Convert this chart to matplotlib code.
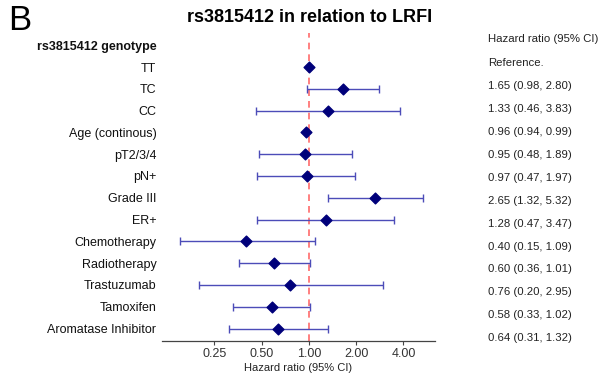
import matplotlib.pyplot as plt
import numpy as np

plt.rcParams["font.family"] = ["Liberation Sans", "DejaVu Sans"]

# rows of the forest plot (row 0 is the genotype header)
labels = ["TT", "TC", "CC", "Age (continous)", "pT2/3/4", "pN+", "Grade III",
          "ER+", "Chemotherapy", "Radiotherapy", "Trastuzumab", "Tamoxifen",
          "Aromatase Inhibitor"]
hr = [1.00, 1.65, 1.33, 0.96, 0.95, 0.97, 2.65, 1.28, 0.40, 0.60, 0.76, 0.58, 0.64]
lo = [np.nan, 0.98, 0.46, 0.94, 0.48, 0.47, 1.32, 0.47, 0.15, 0.36, 0.20, 0.33, 0.31]
hi = [np.nan, 2.80, 3.83, 0.99, 1.89, 1.97, 5.32, 3.47, 1.09, 1.01, 2.95, 1.02, 1.32]
hr_text = ["Reference.", "1.65 (0.98, 2.80)", "1.33 (0.46, 3.83)", "0.96 (0.94, 0.99)",
           "0.95 (0.48, 1.89)", "0.97 (0.47, 1.97)", "2.65 (1.32, 5.32)",
           "1.28 (0.47, 3.47)", "0.40 (0.15, 1.09)", "0.60 (0.36, 1.01)",
           "0.76 (0.20, 2.95)", "0.58 (0.33, 1.02)", "0.64 (0.31, 1.32)"]
xticks = [0.25, 0.5, 1, 2, 4]

W, H = 602, 381
fig = plt.figure(figsize=(W / 100, H / 100), dpi=100)
ax = fig.add_axes([162 / W, 1 - 341 / H, (435 - 162) / W, (341 - 33) / H])

rows = np.arange(1, len(labels) + 1)
hr = np.array(hr)
lo = np.array(lo)
hi = np.array(hi)
ok = ~np.isnan(lo)
ax.errorbar(hr[ok], rows[ok], xerr=[hr[ok] - lo[ok], hi[ok] - hr[ok]], fmt="none",
            ecolor="#4c4cb8", elinewidth=1.0, capsize=3, capthick=1.0, zorder=2)
ax.scatter(hr, rows, marker="D", s=30, color="#00007a", zorder=3)
ax.axvline(1, color="#ff6b6b", ls=(0, (4, 3)), lw=1.2, zorder=1)

ax.set_xscale("log", base=2)
ax.set_xlim(0.116, 6.36)
ax.set_xticks(xticks)
ax.set_xticklabels([f"{t:.2f}" for t in xticks])
ax.minorticks_off()
ax.set_ylim(13.57, -0.56)
ax.set_yticks(np.arange(0, len(labels) + 1))
ax.set_yticklabels(["rs3815412 genotype"] + labels)
ax.get_yticklabels()[0].set_fontweight("bold")
ax.tick_params(axis="y", length=0, pad=4, labelsize=9, labelcolor="#111111")
ax.tick_params(axis="x", length=3, width=0.8, color="#444444", labelsize=9,
               labelcolor="#333333", pad=2)
for s in ["top", "right", "left"]:
    ax.spines[s].set_visible(False)
ax.spines["bottom"].set_color("#444444")
ax.spines["bottom"].set_linewidth(0.9)
ax.set_xlabel("Hazard ratio (95% CI)", fontsize=8, color="#222222", labelpad=2)

fig.text(310 / W, 1 - 18 / H, "rs3815412 in relation to LRFI", ha="center",
         va="center", fontsize=13, fontweight="bold")
fig.text(8 / W, 1 - 20 / H, "B", ha="left", va="center", fontsize=25)

fig.text(488 / W, 1 - 39.3 / H, "Hazard ratio (95% CI)", ha="left", va="center",
         fontsize=8.2, color="#222222")
for k, t in enumerate(hr_text):
    fig.text(488 / W, 1 - (63.3 + 22.9 * k) / H, t, ha="left", va="center",
             fontsize=8.2, color="#222222")

fig.savefig("out.png", dpi=100)
